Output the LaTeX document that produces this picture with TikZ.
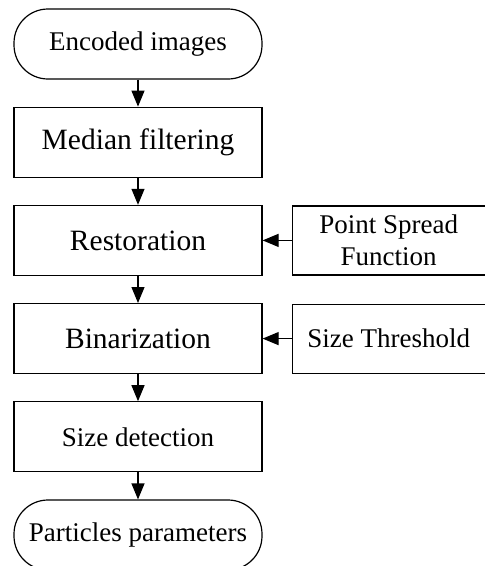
\documentclass[tikz,border=0pt]{standalone}
\usepackage{fontspec}
\setmainfont{Liberation Serif}
\usetikzlibrary{positioning,arrows.meta}

\begin{document}
\begin{tikzpicture}[
      block/.style={draw=black, line width=1.2pt, minimum width=248pt, minimum height=70pt,
        inner sep=0pt, font=\fontsize{29.5}{33}\selectfont},
      smallblock/.style={block, font=\fontsize{27}{32}\selectfont},
      terminal/.style={smallblock, rounded corners=34pt},
      sidebox/.style={smallblock, minimum width=193pt, minimum height=69pt, align=center},
      arrow/.style={line width=1.2pt, -{Triangle[length=16pt,width=13pt]}},
      node distance=27pt
    ]
    \useasboundingbox (0,0) rectangle (485pt,-566pt);

    % main column
    \node[terminal] (enc) at (138pt,-44pt) {Encoded images};
    \node[block, below=of enc] (median) {Median filtering};
    \node[block, below=of median] (rest) {Restoration};
    \node[block, below=of rest] (bin) {Binarization};
    \node[smallblock, below=of bin] (size) {Size detection};
    \node[terminal, below=of size] (part) {Particles parameters};

    % side inputs
    \node[sidebox, right=29pt of rest] (psf) {Point Spread\\Function};
    \node[sidebox, right=29pt of bin] (thresh) {Size Threshold};

    % connectors
    \draw[arrow] (enc) -- (median);
    \draw[arrow] (median) -- (rest);
    \draw[arrow] (rest) -- (bin);
    \draw[arrow] (bin) -- (size);
    \draw[arrow] (size) -- (part);
    \draw[arrow] (psf) -- (rest);
    \draw[arrow] (thresh) -- (bin);
  \end{tikzpicture}
\end{document}
